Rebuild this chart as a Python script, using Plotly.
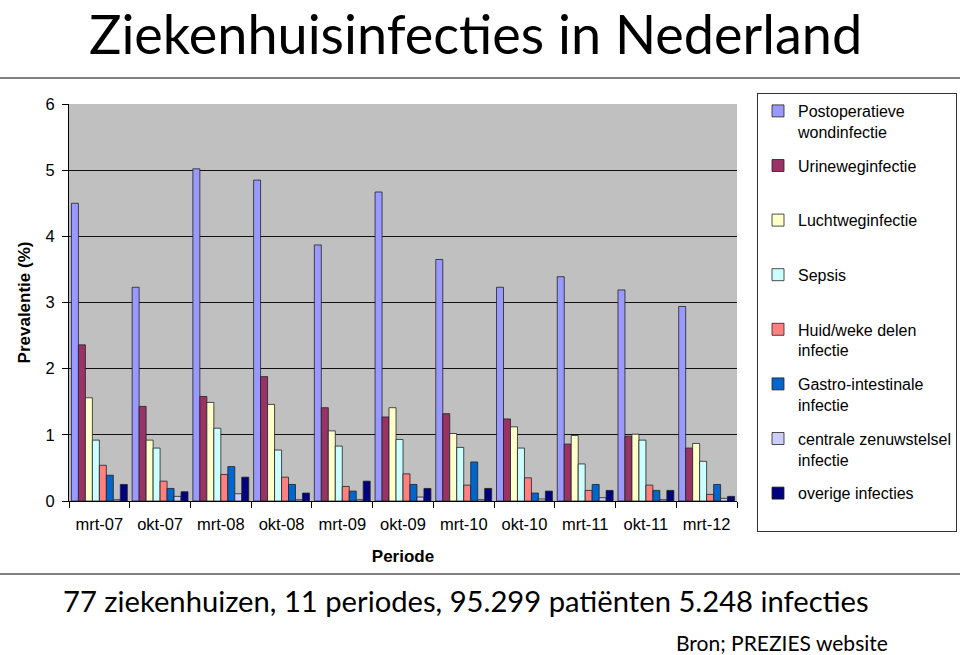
import plotly.graph_objects as go

periods = ["mrt-07", "okt-07", "mrt-08", "okt-08", "mrt-09", "okt-09",
           "mrt-10", "okt-10", "mrt-11", "okt-11", "mrt-12"]

series_names = [
    "Postoperatieve<br>wondinfectie",
    "Urineweginfectie<br> ",
    "Luchtweginfectie<br> ",
    "Sepsis<br> ",
    "Huid/weke delen<br>infectie",
    "Gastro-intestinale<br>infectie",
    "centrale zenuwstelsel<br>infectie",
    "overige infecties<br> ",
]

postoperatief = [4.50, 3.23, 5.02, 4.85, 3.87, 4.67, 3.65, 3.23, 3.39, 3.19, 2.94]
urineweg      = [2.36, 1.43, 1.58, 1.88, 1.41, 1.27, 1.32, 1.24, 0.86, 0.98, 0.80]
luchtweg      = [1.56, 0.92, 1.49, 1.46, 1.06, 1.41, 1.02, 1.12, 0.99, 1.01, 0.87]
sepsis        = [0.92, 0.80, 1.10, 0.77, 0.83, 0.93, 0.81, 0.80, 0.56, 0.92, 0.60]
huid          = [0.54, 0.30, 0.40, 0.36, 0.22, 0.41, 0.24, 0.35, 0.16, 0.24, 0.10]
gastro        = [0.39, 0.19, 0.52, 0.25, 0.15, 0.25, 0.59, 0.12, 0.25, 0.16, 0.25]
czs           = [0.02, 0.07, 0.11, 0.02, 0.02, 0.06, 0.02, 0.03, 0.05, 0.02, 0.04]
overige       = [0.25, 0.14, 0.36, 0.12, 0.30, 0.19, 0.19, 0.15, 0.16, 0.16, 0.07]

all_values = [postoperatief, urineweg, luchtweg, sepsis, huid, gastro, czs, overige]
colors = ["#9999FF", "#993366", "#FFFFCC", "#CCFFFF",
          "#FF8080", "#0066CC", "#CCCCFF", "#000080"]

fig = go.Figure()
for name, vals, col in zip(series_names, all_values, colors):
    fig.add_trace(go.Bar(
        x=periods, y=vals, name=name, legendgroup=name,
        marker=dict(color=col, line=dict(color="#222222", width=0.8)),
    ))

W, H = 960, 655
L, R, T, B = 69, 737, 104, 501
PH = B - T
PW = R - L


def px_x(x):
    return (x - L) / PW


def px_y(y):
    return (B - y) / PH


fig.update_layout(
    width=W, height=H,
    margin=dict(l=L, r=W - R, t=T, b=H - B, autoexpand=False),
    paper_bgcolor="white",
    plot_bgcolor="#C0C0C0",
    barmode="group",
    bargap=0.08,
    bargroupgap=0,
    font=dict(family="Liberation Sans, Arial", color="#000000", size=16),
    showlegend=True,
    legend=dict(
        x=px_x(757), y=px_y(93),
        xanchor="left", yanchor="top",
        bgcolor="white", bordercolor="#333333", borderwidth=1,
        font=dict(family="Liberation Sans, Arial", size=16, color="#000"),
        valign="top", tracegroupgap=10,
        itemwidth=30, maxheight=620,
    ),
    xaxis=dict(
        type="category", tickson="boundaries", ticks="outside",
        ticklen=6, tickcolor="#000", showline=True, linecolor="#000",
        linewidth=1, showgrid=False,
        tickfont=dict(size=16.5), ticklabelstandoff=8,
        title=dict(text="<b>Periode</b>", font=dict(size=17), standoff=18),
    ),
    yaxis=dict(
        range=[0, 6], dtick=1, ticks="outside", ticklen=6, tickcolor="#000",
        showline=True, linecolor="#000", linewidth=1,
        showgrid=True, gridcolor="#111111", gridwidth=1,
        zeroline=False, tickfont=dict(size=16.5), ticklabelstandoff=4,
        title=dict(text="<b>Prevalentie (%)</b>", font=dict(size=17), standoff=10),
    ),
    shapes=[
        dict(type="line", xref="paper", yref="paper",
             x0=px_x(0), x1=px_x(W), y0=px_y(78), y1=px_y(78),
             line=dict(color="#7F7F7F", width=2)),
        dict(type="line", xref="paper", yref="paper",
             x0=px_x(0), x1=px_x(W), y0=px_y(574), y1=px_y(574),
             line=dict(color="#7F7F7F", width=2)),
    ],
    annotations=[
        dict(text="Ziekenhuisinfecties in Nederland", xref="paper", yref="paper",
             x=px_x(88), y=px_y(0), xanchor="left", yanchor="top", borderpad=0,
             showarrow=False, font=dict(family="Lato", size=54, color="#000")),
        dict(text="77 ziekenhuizen, 11 periodes, 95.299 patiënten 5.248 infecties",
             xref="paper", yref="paper",
             x=px_x(61), y=px_y(581), xanchor="left", yanchor="top",
             showarrow=False, font=dict(family="Lato", size=29.2, color="#000")),
        dict(text="Bron; PREZIES website", xref="paper", yref="paper",
             x=px_x(890), y=px_y(628), xanchor="right", yanchor="top",
             showarrow=False, font=dict(family="Lato", size=21, color="#000")),
    ],
)

fig.write_html("out.html")
